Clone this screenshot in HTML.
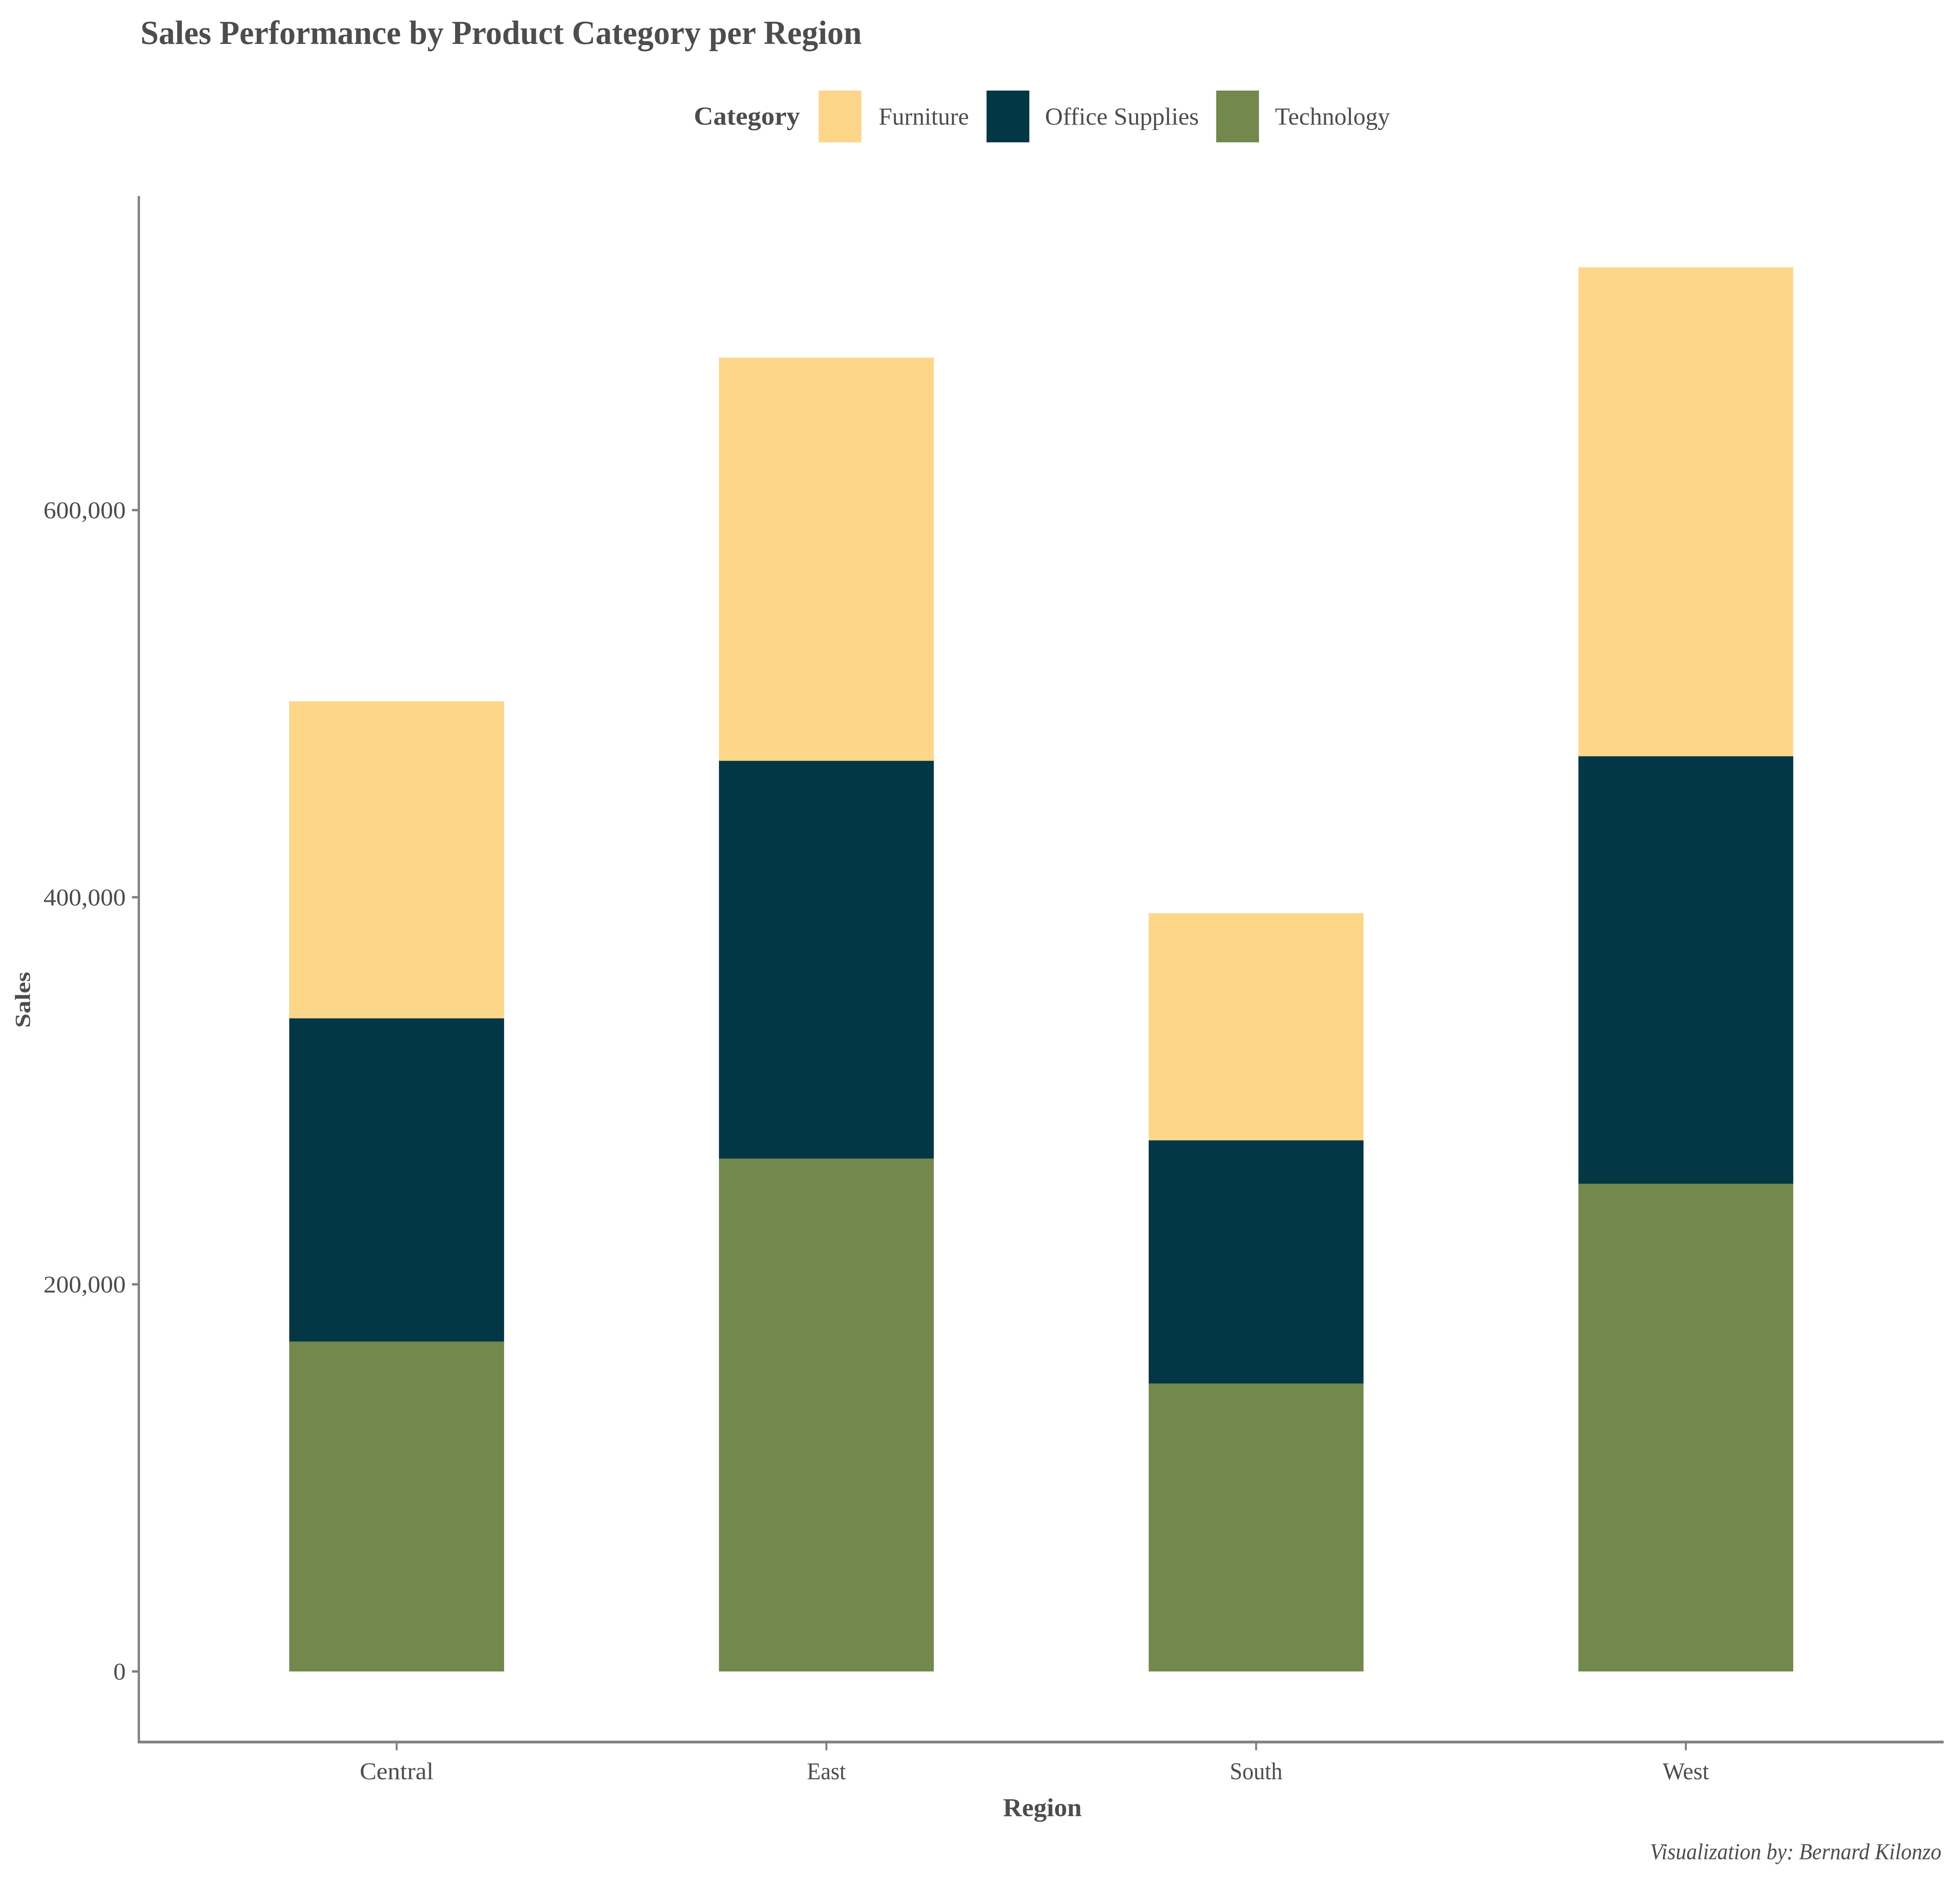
<!DOCTYPE html>
<html><head><meta charset="utf-8"><style>
html,body{margin:0;padding:0;background:#fff;overflow:hidden;width:100vw;height:100vh}
#chart{display:block;width:100vw;height:100vh}
svg text{font-family:"Liberation Serif",serif;fill:#4d4d4d}
</style></head><body>
<svg id="chart" viewBox="0 0 6000 4800" preserveAspectRatio="none" xmlns="http://www.w3.org/2000/svg">
<rect width="6000" height="4800" fill="#fff"/>
<text x="430" y="112" font-size="86" font-weight="bold" textLength="2208" lengthAdjust="spacingAndGlyphs">Sales Performance by Product Category per Region</text>
<g>
<text x="2124" y="318" font-size="66" font-weight="bold" textLength="325" lengthAdjust="spacingAndGlyphs">Category</text>
<rect x="2506" y="231" width="131" height="132" fill="#FDD68A"/>
<text x="2690" y="318" font-size="63" textLength="276" lengthAdjust="spacingAndGlyphs">Furniture</text>
<rect x="3020" y="231" width="131" height="132" fill="#043745"/>
<text x="3199" y="318" font-size="63" textLength="471" lengthAdjust="spacingAndGlyphs">Office Supplies</text>
<rect x="3723" y="231" width="131" height="132" fill="#73884D"/>
<text x="3903" y="318" font-size="63" textLength="352" lengthAdjust="spacingAndGlyphs">Technology</text>
</g>
<g id="bars"></g>
<g id="axes"></g>
<text x="3191" y="4632" font-size="66" font-weight="bold" text-anchor="middle" textLength="241" lengthAdjust="spacingAndGlyphs">Region</text>
<text transform="translate(92,2550) rotate(-90)" font-size="66" font-weight="bold" text-anchor="middle">Sales</text>
<text x="5051" y="4742" font-size="58" font-style="italic" textLength="892" lengthAdjust="spacingAndGlyphs">Visualization by: Bernard Kilonzo</text>
</svg>
<script>
const regions = ["Central","East","South","West"];
const technology = [170416,264974,148772,251992];
const officeSupplies = [167026,205516,125651,220853];
const furniture = [163797,208291,117299,252613];
const yTicks = [0,200000,400000,600000];
const yTickLabels = ["0","200,000","400,000","600,000"];

const NS="http://www.w3.org/2000/svg";
const plotL=425, plotR=5950;
const y0=4263, y600=1301;
function yScale(v){return y0-(v/600000)*(y0-y600);}
const band=(plotR-plotL)/(regions.length-1+1.2);
function xCenter(i){return plotL+band*(0.6+i);}
const barW=band*0.5;
function mk(tag,attrs,parent){const e=document.createElementNS(NS,tag);for(const k in attrs)e.setAttribute(k,attrs[k]);parent.appendChild(e);return e;}
const bars=document.getElementById('bars');
const series=[["technology",technology,"#73884D"],["office-supplies",officeSupplies,"#043745"],["furniture",furniture,"#FDD68A"]];
regions.forEach((r,i)=>{
  let base=0;
  series.forEach(([name,vals,col])=>{
    const top=base+vals[i];
    const el=mk('rect',{x:xCenter(i)-barW/2,y:yScale(top),width:barW,height:yScale(base)-yScale(top),fill:col},bars);
    
    
    base=top;
  });
});
const axes=document.getElementById('axes');
const yl=mk('line',{x1:plotL,y1:500,x2:plotL,y2:4446,stroke:"#808080","stroke-width":7},axes);


const xl=mk('line',{x1:plotL-3,y1:4443,x2:plotR,y2:4443,stroke:"#808080","stroke-width":7},axes);


yTicks.forEach((v,i)=>{
  const t=mk('line',{x1:plotL-21,y1:yScale(v),x2:plotL,y2:yScale(v),stroke:"#808080","stroke-width":6},axes);
  
  
  const lab=yTickLabels[i];
  const w=lab.replace(/,/g,'').length*38+(lab.split(',').length-1)*24;
  const l=mk('text',{x:plotL-40,y:yScale(v)+21,"font-size":61,"text-anchor":"end",textLength:w,lengthAdjust:"spacingAndGlyphs"},axes);
  l.textContent=lab;
  
  
});
const xLabW=[226,119,161,142];
regions.forEach((r,i)=>{
  const t=mk('line',{x1:xCenter(i),y1:4443,x2:xCenter(i),y2:4464,stroke:"#808080","stroke-width":6},axes);
  
  
  const l=mk('text',{x:xCenter(i),y:4538,"font-size":61,"text-anchor":"middle",textLength:xLabW[i],lengthAdjust:"spacingAndGlyphs"},axes);
  l.textContent=r;
  
  
});
</script>
</body></html>
